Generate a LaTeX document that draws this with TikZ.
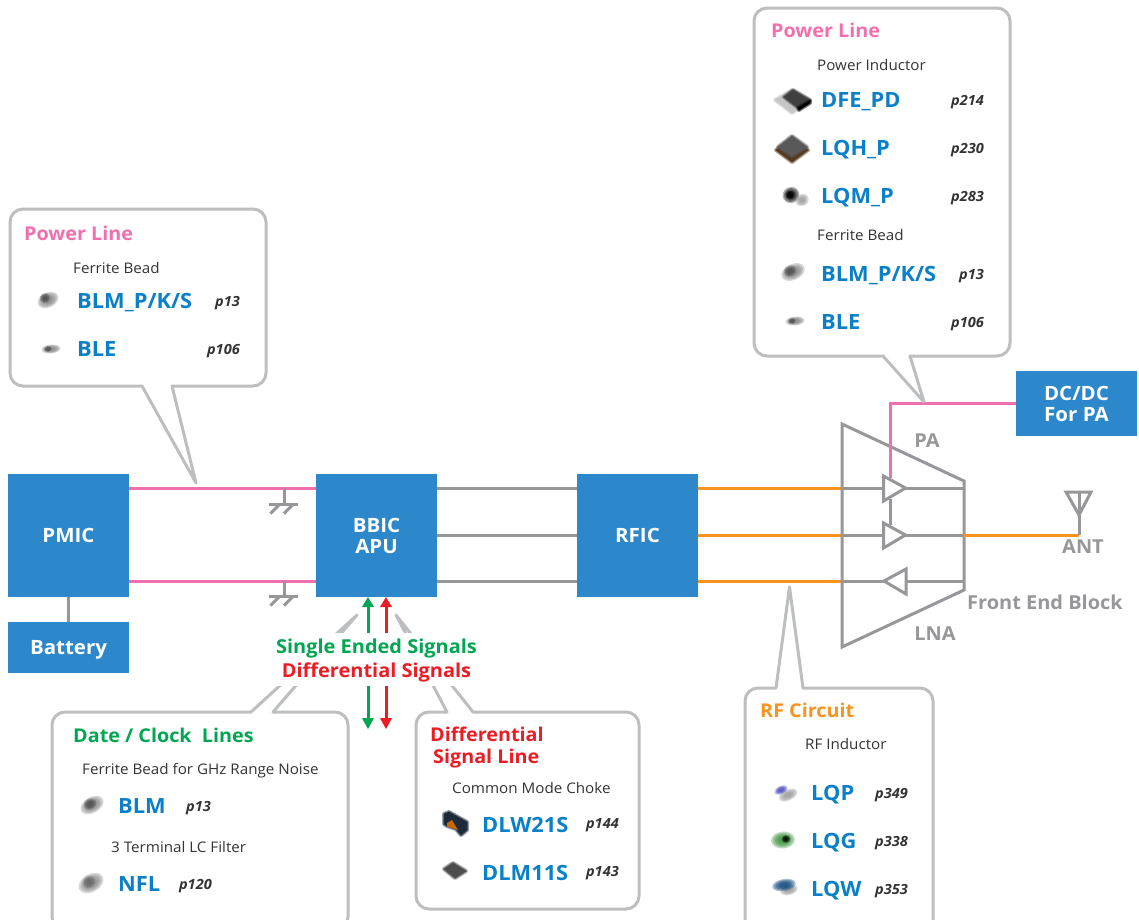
\documentclass[tikz,border=0pt]{standalone}
\usepackage{fontspec}
\setmainfont[FakeStretch=1.04]{Open Sans}
\definecolor{blk}{HTML}{2C88CA}
\definecolor{pnk}{HTML}{F06FAE}
\definecolor{gry}{HTML}{97979B}
\definecolor{org}{HTML}{F7931E}
\definecolor{cal}{HTML}{BDBEC0}
\definecolor{grn}{HTML}{00A651}
\definecolor{rd}{HTML}{ED1C24}
\definecolor{tblu}{HTML}{0A80C8}
\definecolor{txt}{HTML}{333333}
\definecolor{nvy}{HTML}{1C2A3A}
\tikzset{
  x=1pt,y=-1pt,
  block/.style={fill=blk,text=white,font=\fontsize{19.7}{22}\selectfont\bfseries,align=center,inner sep=0pt},
  wire/.style={line width=3pt},
  thin wire/.style={line width=3pt,color=gry},
  callout/.style={draw=cal,line width=3pt,fill=white,line join=round},
  head/.style={anchor=west,inner sep=0pt,text height=13.6pt,text depth=0pt,font=\fontsize{19}{22}\selectfont\bfseries},
  sub/.style={anchor=west,inner sep=0pt,text height=10.5pt,text depth=0pt,text=txt,font=\fontsize{14.6}{17}\selectfont},
  part/.style={anchor=west,inner sep=0pt,text height=15pt,text depth=0pt,text=tblu,font=\fontsize{21}{24}\selectfont\bfseries},
  pg/.style={anchor=east,inner sep=0pt,text height=10pt,text depth=0pt,text=txt,font=\fontsize{14}{15}\selectfont\bfseries\itshape},
  glabel/.style={inner sep=0pt,text height=13.7pt,text depth=0pt,text=gry,font=\fontsize{19.2}{22}\selectfont\bfseries},
  sarrow/.style={line width=3pt},
}
% soft blurred blob: x,y,w,h,rotation,colour
\newcommand{\blob}[6]{%
  \foreach \k in {1,.85,.7,.55,.4}{%
    \fill[#6,opacity=.3,rotate around={#5:(#1,#2)}] (#1,#2) ellipse[x radius=\k*#3/2,y radius=\k*#4/2];}}
% soft polygon: colour, closed path
\newcommand{\softpoly}[2]{%
  \foreach \w in {4,2.5,1}{%
    \filldraw[#1,opacity=.4,line width=\w pt,line join=round] #2;}
  \fill[#1] #2;}
\newcommand{\callbox}[8]{% L R T B tailL tailR tipx tipy
  \draw[callout] (#5,#4) [sharp corners] -- (#7,#8) -- (#6,#4) [rounded corners=13pt] -- (#2,#4) -- (#2,#3) -- (#1,#3) -- (#1,#4) [sharp corners] -- (#5,#4) -- cycle;}
\newcommand{\callboxtop}[8]{% L R T B tailL tailR tipx tipy : tail on the top edge
  \draw[callout] (#5,#3) [sharp corners] -- (#7,#8) -- (#6,#3) [rounded corners=13pt] -- (#2,#3) -- (#2,#4) -- (#1,#4) -- (#1,#3) [sharp corners] -- (#5,#3) -- cycle;}
\begin{document}
\begin{tikzpicture}
\useasboundingbox (0,0) rectangle (1139,919);
\fill[white] (0,0) rectangle (1139,919);
\coordinate (top) at (0,488);
\coordinate (mid) at (0,535);
\coordinate (bot) at (0,581);
% blocks
\node[block,minimum width=121pt,minimum height=123pt] (pmic) at (68.5,535.5) {PMIC};
\node[block,minimum width=121pt,minimum height=123pt] (bbic) at (376.5,535.5) {BBIC\\[-1pt]APU};
\node[block,minimum width=121pt,minimum height=123pt] (rfic) at (637.5,535.5) {RFIC};
\node[block,minimum width=121pt,minimum height=51pt,text height=14pt,text depth=0pt] (batt) at (68.5,647.5) {Battery};
\node[block,minimum width=121pt,minimum height=65pt] (dcdc) at (1076.5,403.5) {DC/DC\\[-1pt]For PA};
% wires
\draw[thin wire] (pmic.south) -- (batt.north);
\foreach \c in {top,bot}{
  \draw[wire,pnk] (pmic.east |- \c) -- (bbic.west |- \c);
  \draw[wire,gry] (bbic.east |- \c) -- (rfic.west |- \c);
}
\draw[wire,gry] (bbic.east |- mid) -- (rfic.west |- mid);
% front end
\coordinate (feL) at (842,0);
\coordinate (feR) at (964,0);
\foreach \c in {top,mid,bot}{
  \draw[wire,org] (rfic.east |- \c) -- (feL |- \c);
  \draw[thin wire] (feL |- \c) -- (feR |- \c);
}
\draw[thin wire,line join=miter] (842,424) -- (964,481) -- (964,590) -- (842,647) -- cycle;
\draw[thin wire,fill=white] (883.5,476) -- (905.5,488) -- (883.5,501) -- cycle;
\draw[thin wire,fill=white] (883.5,523) -- (905.5,535) -- (883.5,548) -- cycle;
\draw[thin wire,fill=white] (906,569) -- (884,581) -- (906,594) -- cycle;
\draw[thin wire] (890,499) -- (890,525);
\draw[wire,pnk] (dcdc.west) -- (890,403.5) -- (890,478);
% antenna
\coordinate (ant) at (1079,535);
\draw[wire,org] (feR |- mid) -- (ant);
\draw[thin wire] (ant) -- (1079,492);
\draw[thin wire,line join=miter] (1066,492) -- (1091,492) -- (1079,515) -- cycle;
% grounds
\foreach \yy/\c in {504/top,596/bot}{
  \draw[thin wire] (284,0 |- \c) -- (284,\yy);
  \draw[thin wire] (269,\yy) -- (298,\yy);
  \draw[thin wire] (280,\yy) -- (270.5,\yy+9.5);
  \draw[thin wire] (293.5,\yy) -- (284,\yy+9.5);
}
% labels
\node[glabel] (lpa) at (927,440.5) {PA};
\node[glabel] (lant) at (1083,547) {ANT};
\node[glabel,anchor=west] (lfe) at (967,603) {Front End Block};
\node[glabel] (llna) at (935,634) {LNA};
% callouts
\callbox{10}{266}{209}{386}{142}{172}{196}{483}
\callbox{754}{1010}{8}{356}{883}{910}{924}{402}
\callboxtop{745}{933}{688}{940}{776}{803}{789.5}{587}
\callboxtop{52}{348}{712}{930}{251}{273}{357}{615}
\callboxtop{416}{639}{712}{909}{447}{473}{396}{615}
% arrows
\fill[white] (270,633) rectangle (490,686);
\node[inner sep=0pt,text height=13.7pt,text depth=0pt,text=grn,font=\fontsize{19.2}{22}\selectfont\bfseries] (se) at (376.5,647) {Single Ended Signals};
\node[inner sep=0pt,text height=13.7pt,text depth=0pt,text=rd,font=\fontsize{19.2}{22}\selectfont\bfseries] (ds) at (376.5,671) {Differential Signals};
\coordinate (ua) at (368,633);
\coordinate (ub) at (386,633);
\coordinate (da) at (368,686);
\coordinate (db) at (386,686);
\draw[sarrow,grn] (ua) -- (368,605);
\fill[grn] (368,597) -- (374,607) -- (362,607) -- cycle;
\draw[sarrow,rd] (ub) -- (386,605);
\fill[rd] (386,597) -- (392,607) -- (380,607) -- cycle;
\draw[sarrow,grn] (da) -- (368,720);
\fill[grn] (368,729) -- (374,718) -- (362,718) -- cycle;
\draw[sarrow,rd] (db) -- (386,720);
\fill[rd] (386,729) -- (392,718) -- (380,718) -- cycle;
% left power line
\node[head,text=pnk] (h1) at (24,234) {Power Line};
\node[sub] (s1) at (73,268) {Ferrite Bead};
\node[part] (a1) at (77,301) {BLM\_P/K/S};
\node[pg] (a1p) at (240,301) {p13};
\node[part] (a2) at (77,349) {BLE};
\node[pg] (a2p) at (240,349) {p106};
% top power line
\node[head,text=pnk] (h2) at (771,31) {Power Line};
\node[sub] (s2) at (817,65) {Power Inductor};
\node[part] (b1) at (821,100) {DFE\_PD};
\node[pg] (b1p) at (984,100) {p214};
\node[part] (b2) at (821,148) {LQH\_P};
\node[pg] (b2p) at (984,148) {p230};
\node[part] (b3) at (821,196) {LQM\_P};
\node[pg] (b3p) at (984,196) {p283};
\node[sub] (s3) at (817,235) {Ferrite Bead};
\node[part] (b4) at (821,274) {BLM\_P/K/S};
\node[pg] (b4p) at (984,274) {p13};
\node[part] (b5) at (821,322) {BLE};
\node[pg] (b5p) at (984,322) {p106};
% RF
\node[head,text=org] (h3) at (760,711) {RF Circuit};
\node[sub] (s4) at (805,744) {RF Inductor};
\node[part] (c1) at (811,793) {LQP};
\node[pg] (c1p) at (908,793) {p349};
\node[part] (c2) at (811,841) {LQG};
\node[pg] (c2p) at (908,841) {p338};
\node[part] (c3) at (811,889) {LQW};
\node[pg] (c3p) at (908,889) {p353};
% data/clock
\node[head,text=grn] (h4) at (73,736) {Date / Clock\ \ Lines};
\node[sub] (s5) at (82,769) {Ferrite Bead for GHz Range Noise};
\node[part] (d1) at (118,806) {BLM};
\node[pg] (d1p) at (211,806) {p13};
\node[sub] (s6) at (111,847) {3 Terminal LC Filter};
\node[part] (d2) at (118,884) {NFL};
\node[pg] (d2p) at (212,884) {p120};
% differential
\node[head,text=rd] (h5) at (430,735) {Differential};
\node[head,text=rd] (h6) at (433,757) {Signal Line};
\node[sub] (s7) at (452,788) {Common Mode Choke};
\node[part] (e1) at (482,825) {DLW21S};
\node[pg] (e1p) at (619,823) {p144};
\node[part] (e2) at (482,873) {DLM11S};
\node[pg] (e2p) at (619,871) {p143};
% component pictures
\blob{48}{300}{22}{15}{25}{gray}
\blob{45}{298}{11}{10}{25}{black!70}
\blob{51}{349}{19}{9}{5}{gray}
\blob{48}{349}{8}{6}{5}{black!70}
% DFE_PD
\softpoly{gray!45}{(775,100) -- (792,90) -- (810,101) -- (792,113) -- cycle}
\softpoly{black!75}{(784,97) -- (793,90) -- (810,100) -- (797,107) -- cycle}
\softpoly{black}{(798,108) -- (810,101) -- (810,103) -- (799,110) -- cycle}
% LQH_P
\softpoly{black!55!brown}{(776,150) -- (792,140) -- (808,150) -- (792,162) -- cycle}
\softpoly{black!65}{(778,147) -- (792,136) -- (807,147) -- (792,156) -- cycle}
% LQM_P
\blob{791}{195}{17}{16}{30}{black}
\blob{790}{195}{9}{9}{30}{black}
\blob{802}{200}{14}{12}{30}{gray!80}
% BLM
\blob{793}{272}{25}{16}{25}{gray}
\blob{790}{271}{13}{11}{25}{black!70}
\blob{795}{321}{19}{9}{5}{gray}
\blob{792}{321}{8}{6}{5}{black!70}
\blob{92}{805}{25}{16}{30}{gray}
\blob{90}{804}{13}{11}{30}{black!70}
\blob{91}{883}{27}{18}{30}{gray}
\blob{89}{882}{13}{12}{30}{black!60}
% DLW21S
\softpoly{nvy}{(444,814) -- (449,812) -- (467,822) -- (467,830) -- (461,835) -- (456,829) -- (447,826) -- (444,824) -- cycle}
\fill[orange!80!black] (447,823) -- (452,820) -- (458,830) -- (447,826.5) -- cycle;
% DLM11S
\softpoly{black!70}{(444,869) -- (453,863) -- (466,871) -- (455,878) -- cycle}
% RF parts
\blob{788}{795}{20}{11}{25}{gray!80}
\blob{781}{790}{14}{8}{25}{blue!50!gray}
\blob{783}{840}{24}{17}{5}{black!40!green!60!gray}
\blob{786}{839}{9}{8}{5}{black}
\blob{789}{890}{18}{10}{15}{gray!80}
\blob{784}{885}{24}{12}{10}{blue!30!teal!70!black}
\end{tikzpicture}
\end{document}
